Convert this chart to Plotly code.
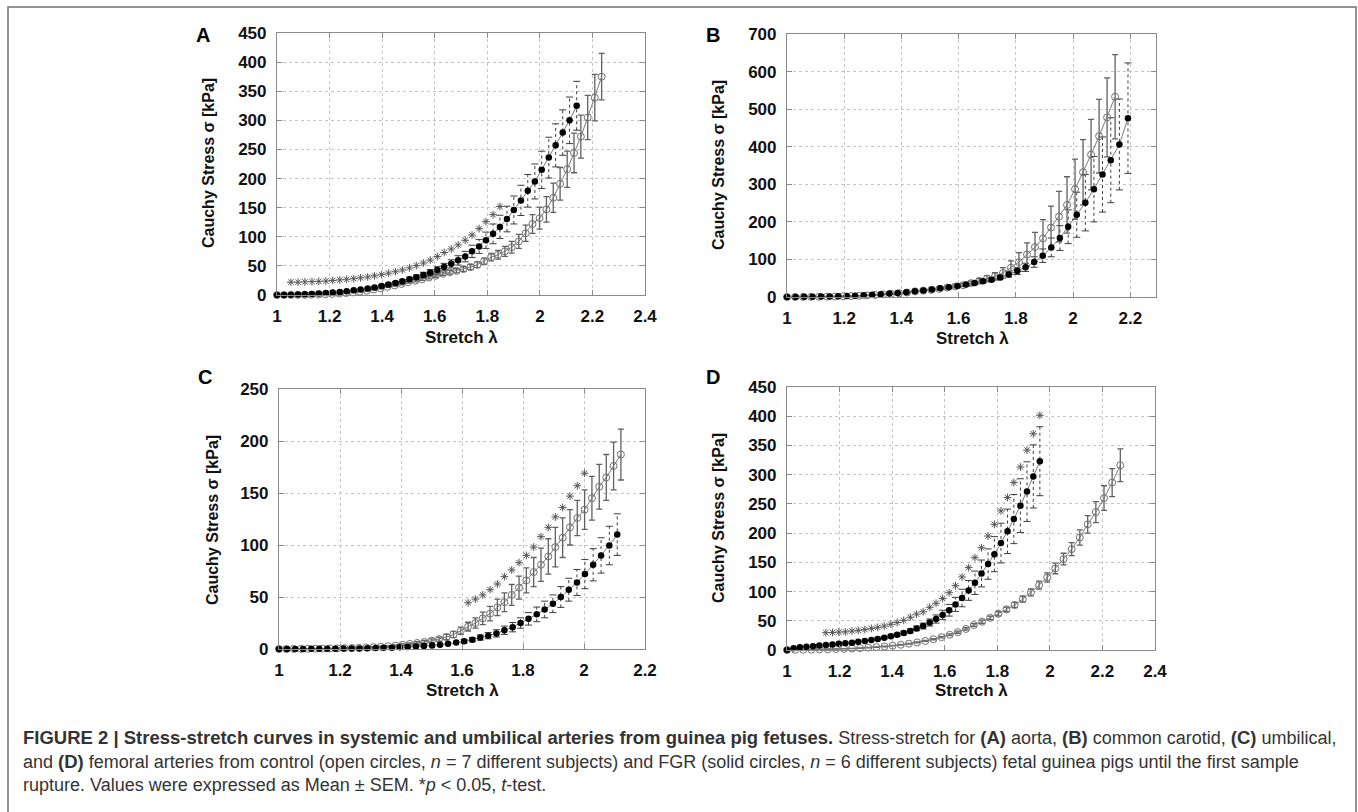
import plotly.graph_objects as go

# ---------------- DATA ----------------
# Panel A (aorta)
a_fgr_x = [1.000, 1.027, 1.053, 1.080, 1.106, 1.133, 1.159, 1.186, 1.212, 1.239, 1.265, 1.292, 1.318, 1.345, 1.371,
           1.398, 1.424, 1.451, 1.477, 1.504, 1.530, 1.557, 1.583, 1.610, 1.636, 1.663, 1.689, 1.716, 1.742, 1.769,
           1.795, 1.822, 1.848, 1.875, 1.901, 1.928, 1.954, 1.981, 2.007, 2.034, 2.060, 2.087, 2.113, 2.140]
a_fgr_y = [0, 0.2, 0.5, 0.8, 1.3, 1.9, 2.6, 3.4, 4.3, 5.3, 6.5, 8, 9.5, 11, 13, 15.5, 18, 20.5, 23.5, 27,
           30.5, 34.5, 38.5, 43, 48, 53.5, 59.5, 66, 75, 83.5, 94, 105, 117, 130.5, 146, 162.5, 179, 195, 215, 236,
           257, 279, 300, 325]
a_fgr_err = [0, 0.05, 0.1, 0.15, 0.2, 0.3, 0.4, 0.5, 0.6, 0.7, 0.8, 1, 1.2, 1.4, 1.7, 2, 2.4, 2.8, 3.2, 3.6,
             4, 4.5, 5, 5.6, 6.3, 7, 8, 9, 10.5, 12, 14, 17, 20, 22, 24, 26, 28, 30, 32, 35, 37, 39, 40, 42]
a_ctl_x = [1.000, 1.026, 1.053, 1.079, 1.105, 1.131, 1.158, 1.184, 1.210, 1.237, 1.263, 1.289, 1.315, 1.342, 1.368,
           1.394, 1.420, 1.447, 1.473, 1.499, 1.526, 1.552, 1.578, 1.604, 1.631, 1.657, 1.683, 1.709, 1.736, 1.762,
           1.788, 1.815, 1.841, 1.867, 1.893, 1.920, 1.946, 1.972, 1.999, 2.025, 2.051, 2.077, 2.104, 2.130, 2.156,
           2.182, 2.209, 2.235]
a_ctl_y = [0, 0.05, 0.1, 0.2, 0.3, 0.5, 0.8, 1.2, 1.8, 2.5, 3.4, 4.5, 6, 7.5, 9.5, 11.5, 14, 16.5, 19, 22,
           24.5, 27, 30, 33, 36.5, 39, 41.5, 44.5, 48, 52, 58, 65, 69, 75, 82, 92, 106, 122, 132, 147,
           167, 191, 216, 244, 272, 305, 339, 375]
a_ctl_err = [0, 0, 0.05, 0.05, 0.1, 0.1, 0.15, 0.2, 0.25, 0.3, 0.4, 0.5, 0.6, 0.7, 0.8, 0.9, 1, 1.2, 1.4, 1.6,
             1.8, 2, 2.2, 2.5, 2.8, 3.2, 3.6, 4, 4.5, 5, 5.5, 6.5, 7.5, 8.5, 10, 12, 14, 16, 19, 22,
             25, 28, 31, 34, 37, 38, 40, 40]
a_sig_x = [1.053, 1.080, 1.106, 1.133, 1.159, 1.186, 1.212, 1.239, 1.265, 1.292, 1.318, 1.345, 1.371, 1.398, 1.424,
           1.451, 1.477, 1.504, 1.530, 1.557, 1.583, 1.610, 1.636, 1.663, 1.689, 1.716, 1.742, 1.769, 1.795, 1.822,
           1.848]
a_sig_y = [22, 22, 22.5, 23, 23.5, 24, 25, 26, 27, 28, 29.5, 31, 33, 35, 37.5, 40, 43, 46.5, 50.5, 55,
           60, 66, 73, 79, 86, 94, 103, 114, 126, 138, 152]

# Panel B (common carotid)
b_fgr_x = [1.000, 1.030, 1.060, 1.089, 1.119, 1.149, 1.179, 1.209, 1.238, 1.268, 1.298, 1.328, 1.358, 1.387, 1.417,
           1.447, 1.477, 1.507, 1.536, 1.566, 1.596, 1.626, 1.656, 1.685, 1.715, 1.745, 1.775, 1.805, 1.834, 1.864,
           1.894, 1.924, 1.954, 1.983, 2.013, 2.043, 2.073, 2.103, 2.132, 2.162, 2.192]
b_fgr_y = [0, 0.2, 0.4, 0.7, 1, 1.5, 2, 2.5, 3.5, 4.5, 6, 7, 9, 10.5, 12.5, 15, 17.5, 20, 23, 26,
           29, 33, 37, 42, 46, 52, 60, 69, 79, 93, 110, 132, 157, 187, 219, 251, 287, 326, 364, 406, 476]
b_fgr_err = [0, 0, 0.05, 0.1, 0.1, 0.15, 0.2, 0.3, 0.4, 0.5, 0.6, 0.7, 0.9, 1.1, 1.3, 1.5, 1.8, 2.1, 2.4, 2.7,
             3, 3.5, 4, 4.5, 5, 6, 7, 9, 11, 14, 18, 25, 33, 45, 60, 75, 87, 100, 113, 121, 147]
b_ctl_x = [1.000, 1.028, 1.056, 1.084, 1.112, 1.140, 1.168, 1.196, 1.224, 1.252, 1.280, 1.308, 1.336, 1.364, 1.392,
           1.420, 1.448, 1.476, 1.504, 1.532, 1.560, 1.588, 1.616, 1.644, 1.672, 1.699, 1.727, 1.755, 1.783, 1.811,
           1.839, 1.867, 1.895, 1.923, 1.951, 1.979, 2.007, 2.035, 2.063, 2.091, 2.119, 2.147]
b_ctl_y = [0, 0.1, 0.2, 0.4, 0.6, 0.9, 1.3, 1.8, 2.4, 3.2, 4.2, 5.5, 7, 8.5, 10, 12, 15, 17, 19, 21.5,
           25, 28, 31.5, 37, 43, 49, 55, 64, 78, 93, 113, 133, 156, 185, 214, 245, 287, 332, 379, 428, 478, 533]
b_ctl_err = [0, 0, 0.03, 0.05, 0.08, 0.1, 0.15, 0.2, 0.25, 0.3, 0.4, 0.55, 0.7, 0.9, 1.1, 1.3, 1.6, 1.9, 2.2, 2.6,
             3, 3.5, 4, 5, 6, 8, 10, 14, 18, 25, 31, 39, 50, 57, 67, 75, 80, 87, 94, 98, 105, 112]

# Panel C (umbilical)
c_fgr_x = [1.000, 1.026, 1.053, 1.079, 1.106, 1.132, 1.158, 1.185, 1.211, 1.238, 1.264, 1.290, 1.317, 1.343, 1.370,
           1.396, 1.422, 1.449, 1.475, 1.502, 1.528, 1.554, 1.581, 1.607, 1.634, 1.660, 1.686, 1.713, 1.739, 1.766,
           1.792, 1.818, 1.845, 1.871, 1.898, 1.924, 1.950, 1.977, 2.003, 2.030, 2.056, 2.083, 2.109]
c_fgr_y = [0, 0.02, 0.05, 0.1, 0.15, 0.2, 0.25, 0.3, 0.4, 0.5, 0.6, 0.75, 0.9, 1.1, 1.3, 1.6, 1.9, 2.3, 2.8, 3.3,
           4, 5, 6.2, 7.4, 9, 11, 12.8, 15, 18, 21, 25, 29, 33.3, 38, 43.5, 50, 57, 64, 72, 81, 90, 99.5, 110]
c_fgr_err = [0, 0, 0, 0, 0, 0.05, 0.05, 0.1, 0.1, 0.15, 0.2, 0.25, 0.3, 0.35, 0.4, 0.5, 0.6, 0.7, 0.8, 0.9,
             1.1, 1.3, 1.5, 1.8, 2, 2.5, 3, 3.5, 4, 4.5, 5, 6, 7, 8, 8.5, 10, 11, 12.5, 14, 15.5, 17, 18.5, 20]
c_ctl_x = [1.000, 1.024, 1.048, 1.072, 1.095, 1.119, 1.143, 1.167, 1.191, 1.215, 1.239, 1.262, 1.286, 1.310, 1.334,
           1.358, 1.382, 1.405, 1.429, 1.453, 1.477, 1.501, 1.525, 1.549, 1.572, 1.596, 1.620, 1.644, 1.668, 1.692,
           1.716, 1.739, 1.763, 1.787, 1.811, 1.835, 1.859, 1.883, 1.906, 1.930, 1.954, 1.978, 2.002, 2.026, 2.050,
           2.073, 2.097, 2.121]
c_ctl_y = [0, 0, 0.05, 0.1, 0.2, 0.3, 0.4, 0.5, 0.6, 0.8, 1, 1.2, 1.5, 1.8, 2.2, 2.7, 3.3, 4, 4.9, 5.8,
           6.8, 8, 9.5, 11.5, 14, 17.5, 21.5, 25, 29.5, 34, 40, 45, 52, 59, 66, 74, 81, 89, 98, 107,
           117, 126, 134, 145, 156, 165, 176, 187]
c_ctl_err = [0, 0, 0, 0, 0, 0.05, 0.05, 0.1, 0.1, 0.15, 0.2, 0.25, 0.3, 0.4, 0.5, 0.6, 0.7, 0.8, 1, 1.2,
             1.4, 1.7, 2, 2.5, 3, 3.5, 4.2, 5, 6, 7, 8, 9, 10, 11, 12, 14, 16, 17, 19, 19,
             17, 17, 19, 21, 21.5, 22, 23, 24.5]
c_sig_x = [1.620, 1.644, 1.668, 1.692, 1.716, 1.739, 1.763, 1.787, 1.811, 1.835, 1.859, 1.883, 1.906, 1.930, 1.954,
           1.978, 2.002]
c_sig_y = [44.5, 48, 52, 57, 62.5, 69.6, 76, 83, 90, 98, 108, 117, 127, 136, 147, 157, 169]

# Panel D (femoral)
d_fgr_x = [1.000, 1.025, 1.049, 1.074, 1.099, 1.123, 1.148, 1.173, 1.197, 1.222, 1.247, 1.271, 1.296, 1.321, 1.345,
           1.370, 1.395, 1.419, 1.444, 1.469, 1.493, 1.518, 1.543, 1.567, 1.592, 1.617, 1.641, 1.666, 1.691, 1.715,
           1.740, 1.765, 1.789, 1.814, 1.839, 1.863, 1.888, 1.913, 1.937, 1.962]
d_fgr_y = [0, 3, 4.5, 5.5, 6.5, 7.5, 8.5, 9.5, 10.5, 11.5, 12.5, 14, 15.5, 17, 19, 21, 23.5, 26, 29, 32.5,
           37, 41, 47, 53, 60, 68, 78, 89, 102, 115, 131, 147, 164, 183, 203, 224, 247, 271, 297, 323]
d_fgr_err = [0, 0.1, 0.15, 0.2, 0.3, 0.4, 0.5, 0.6, 0.7, 0.8, 0.9, 1, 1.2, 1.4, 1.6, 1.9, 2.2, 2.6, 3, 3.5,
             4, 5, 6, 7, 8, 10, 12, 15, 17, 20, 23, 26, 30, 34, 38, 42, 46, 51, 54, 59]
d_ctl_x = [1.000, 1.031, 1.062, 1.093, 1.124, 1.155, 1.186, 1.217, 1.247, 1.278, 1.309, 1.340, 1.371, 1.402, 1.433,
           1.464, 1.495, 1.526, 1.557, 1.588, 1.619, 1.650, 1.681, 1.711, 1.742, 1.773, 1.804, 1.835, 1.866, 1.897,
           1.928, 1.959, 1.990, 2.021, 2.052, 2.083, 2.114, 2.144, 2.175, 2.206, 2.237, 2.268]
d_ctl_y = [0, 0.2, 0.4, 0.6, 0.9, 1.2, 1.6, 2, 2.6, 3.2, 4, 5, 6, 7.4, 9, 10.8, 13, 15.5, 18.5, 22,
           26, 30.5, 36, 42.7, 48.4, 55, 62, 69.5, 77, 87, 98.5, 111, 124, 139.5, 155.5, 172.6, 192.5, 215, 236, 260,
           286.5, 316]
d_ctl_err = [0, 0, 0, 0, 0.05, 0.05, 0.1, 0.1, 0.15, 0.2, 0.25, 0.3, 0.4, 0.5, 0.6, 0.7, 0.8, 0.9, 1.1, 1.3,
             1.5, 1.8, 2.1, 2.4, 2.7, 3, 3.5, 4, 4.5, 5, 6, 7, 8, 9, 10, 11, 13, 15, 18, 21, 24, 28]
d_sig_x = [1.148, 1.173, 1.197, 1.222, 1.247, 1.271, 1.296, 1.321, 1.345, 1.370, 1.395, 1.419, 1.444, 1.469, 1.493,
           1.518, 1.543, 1.567, 1.592, 1.617, 1.641, 1.666, 1.691, 1.715, 1.740, 1.765, 1.789, 1.814, 1.839, 1.863,
           1.888, 1.913, 1.937, 1.962]
d_sig_y = [29.6, 30, 30.7, 31, 32.5, 33.6, 35, 37, 38.7, 41, 44, 47, 50.7, 56, 61.5, 65.5, 73, 80, 88, 98,
           110, 125, 141, 158, 175, 195, 215, 238, 261, 286.5, 313, 342, 370, 401.6]

# Tick labels
x_ticks_24 = [1, 1.2, 1.4, 1.6, 1.8, 2, 2.2, 2.4]
x_ticklabels_24 = ["1", "1.2", "1.4", "1.6", "1.8", "2", "2.2", "2.4"]
x_ticks_22 = [1, 1.2, 1.4, 1.6, 1.8, 2, 2.2]
x_ticklabels_22 = ["1", "1.2", "1.4", "1.6", "1.8", "2", "2.2"]
y_ticks_450 = [0, 50, 100, 150, 200, 250, 300, 350, 400, 450]
y_ticks_700 = [0, 100, 200, 300, 400, 500, 600, 700]
y_ticks_250 = [0, 50, 100, 150, 200, 250]

panel_letters = ["A", "B", "C", "D"]
x_title = "Stretch λ"
y_title = "Cauchy Stress σ [kPa]"
BS = '<span style="font-size:18.5px"><b>'
BE = '</b></span>'
caption_lines = [
    BS + "FIGURE 2 | Stress-stretch curves in systemic and umbilical arteries from guinea pig fetuses." + BE +
    " Stress-stretch for " + BS + "(A)" + BE + " aorta, " + BS + "(B)" + BE + " common carotid, " +
    BS + "(C)" + BE + " umbilical,",
    "and " + BS + "(D)" + BE + " femoral arteries from control (open circles, <i>n</i> = 7 different subjects) and FGR "
    "(solid circles, <i>n</i> = 6 different subjects) fetal guinea pigs until the first sample",
    "rupture. Values were expressed as Mean ± SEM. *<i>p</i> &lt; 0.05, <i>t</i>-test.",
]

# ---------------- FIGURE ----------------
W, H = 1358, 812
fig = go.Figure()

LINE_GREY = "#7a7a7a"
CTL_GREY = "#707070"
DOT_ERR = "#3c3c3c"
SIG_GREY = "#555555"


def add_panel(n, fgr_x, fgr_y, fgr_err, ctl_x, ctl_y, ctl_err, sig_x=None, sig_y=None):
    xa = "x" if n == 1 else f"x{n}"
    ya = "y" if n == 1 else f"y{n}"
    # dotted FGR error bars
    ex, ey = [], []
    for xv, yv, e in zip(fgr_x, fgr_y, fgr_err):
        if e <= 0:
            continue
        ex += [xv, xv, None]
        ey += [yv - e, yv + e, None]
    fig.add_trace(go.Scatter(x=ex, y=ey, mode="lines", xaxis=xa, yaxis=ya,
                             line=dict(color=DOT_ERR, width=1, dash="dot"),
                             hoverinfo="skip", showlegend=False))
    cx, cy = [], []
    for xv, yv, e in zip(fgr_x, fgr_y, fgr_err):
        if e <= 1.5:
            continue
        cx += [xv, xv]
        cy += [yv - e, yv + e]
    fig.add_trace(go.Scatter(x=cx, y=cy, mode="markers", xaxis=xa, yaxis=ya,
                             marker=dict(symbol="line-ew-open", size=5, color=DOT_ERR,
                                         line=dict(color=DOT_ERR, width=1)),
                             hoverinfo="skip", showlegend=False))
    # control: open circles, solid error bars
    fig.add_trace(go.Scatter(x=ctl_x, y=ctl_y, mode="lines+markers", xaxis=xa, yaxis=ya,
                             line=dict(color=LINE_GREY, width=1),
                             marker=dict(symbol="circle-open", size=7, color=CTL_GREY,
                                         line=dict(color=CTL_GREY, width=1)),
                             error_y=dict(type="data", array=ctl_err, visible=True,
                                          color="#606060", thickness=1.3, width=3),
                             cliponaxis=False, showlegend=False))
    # FGR: solid circles
    fig.add_trace(go.Scatter(x=fgr_x, y=fgr_y, mode="lines+markers", xaxis=xa, yaxis=ya,
                             line=dict(color=LINE_GREY, width=1),
                             marker=dict(symbol="circle", size=6.5, color="#000000"),
                             cliponaxis=False, showlegend=False))
    if sig_x is not None:
        fig.add_trace(go.Scatter(x=sig_x, y=sig_y, mode="markers", xaxis=xa, yaxis=ya,
                                 marker=dict(symbol="asterisk-open", size=6.5, color=SIG_GREY,
                                             line=dict(color=SIG_GREY, width=1)),
                                 showlegend=False))


add_panel(1, a_fgr_x, a_fgr_y, a_fgr_err, a_ctl_x, a_ctl_y, a_ctl_err, a_sig_x, a_sig_y)
add_panel(2, b_fgr_x, b_fgr_y, b_fgr_err, b_ctl_x, b_ctl_y, b_ctl_err)
add_panel(3, c_fgr_x, c_fgr_y, c_fgr_err, c_ctl_x, c_ctl_y, c_ctl_err, c_sig_x, c_sig_y)
add_panel(4, d_fgr_x, d_fgr_y, d_fgr_err, d_ctl_x, d_ctl_y, d_ctl_err, d_sig_x, d_sig_y)

TICKFONT = dict(family="Liberation Sans, Arial, sans-serif", size=17, color="#111111", weight="bold")


def dx(a, b):
    return [a / W, b / W]


def dy(top, bottom):
    return [1 - bottom / H, 1 - top / H]


def xaxis(domain, rng, tv, tt, anchor):
    return dict(domain=domain, range=rng, tickvals=tv, ticktext=tt, anchor=anchor, automargin=False,
                showgrid=True, gridcolor="#c4c4c4", griddash="dot", gridwidth=1,
                showline=True, linecolor="#8a8a8a", linewidth=1.2, mirror="ticks",
                ticks="inside", ticklen=5, tickcolor="#8a8a8a", zeroline=False,
                tickfont=TICKFONT, ticklabelstandoff=5)


def yaxis(domain, rng, tv, anchor):
    return dict(domain=domain, range=rng, tickvals=tv, anchor=anchor, automargin=False,
                showgrid=True, gridcolor="#c4c4c4", griddash="dot", gridwidth=1,
                showline=True, linecolor="#8a8a8a", linewidth=1.2, mirror="ticks",
                ticks="inside", ticklen=5, tickcolor="#8a8a8a", zeroline=False,
                tickfont=TICKFONT, ticklabelstandoff=6)


fig.update_layout(
    template="none",
    width=W, height=H, margin=dict(l=0, r=0, t=0, b=0, pad=0, autoexpand=False),
    paper_bgcolor="white", plot_bgcolor="white", showlegend=False,
    xaxis=xaxis(dx(277, 645), [1, 2.4], x_ticks_24, x_ticklabels_24, "y"),
    yaxis=yaxis(dy(33, 295), [0, 450], y_ticks_450, "x"),
    xaxis2=xaxis(dx(787, 1156), [1, 2.29], x_ticks_22, x_ticklabels_22, "y2"),
    yaxis2=yaxis(dy(34, 297), [0, 700], y_ticks_700, "x2"),
    xaxis3=xaxis(dx(279, 645), [1, 2.2], x_ticks_22, x_ticklabels_22, "y3"),
    yaxis3=yaxis(dy(389, 649), [0, 250], y_ticks_250, "x3"),
    xaxis4=xaxis(dx(787, 1155), [1, 2.4], x_ticks_24, x_ticklabels_24, "y4"),
    yaxis4=yaxis(dy(387, 650), [0, 450], y_ticks_450, "x4"),
)

LABFONT = dict(family="Liberation Sans, Arial, sans-serif", size=16, color="#111111", weight="bold")
XLABFONT = dict(family="Liberation Sans, Arial, sans-serif", size=17, color="#111111", weight="bold")
ann = []
# panel letters
for letter, (px, py) in zip(panel_letters, [(203, 35), (713, 35), (205, 377), (713, 377)]):
    ann.append(dict(text=letter, x=px / W, y=1 - py / H, xref="paper", yref="paper",
                    showarrow=False, xanchor="center", yanchor="middle",
                    font=dict(family="Liberation Sans, Arial, sans-serif", size=20, color="#000", weight="bold")))
# x titles
for (px, py) in [(461, 337), (972, 338), (462, 690), (971, 690)]:
    ann.append(dict(text=x_title, x=px / W, y=1 - py / H, xref="paper", yref="paper",
                    showarrow=False, xanchor="center", yanchor="middle", font=XLABFONT))
# y titles
for (px, py) in [(208, 163), (718, 165), (212, 520), (718, 518)]:
    ann.append(dict(text=y_title, x=px / W, y=1 - py / H, xref="paper", yref="paper",
                    showarrow=False, xanchor="center", yanchor="middle", textangle=-90, font=LABFONT))
# caption
for line, py in zip(caption_lines, [737, 761, 785]):
    ann.append(dict(text=line, x=21 / W, y=1 - py / H, xref="paper", yref="paper",
                    showarrow=False, xanchor="left", yanchor="middle", align="left",
                    font=dict(family="Liberation Sans, Arial, sans-serif", size=18, color="#333333")))
fig.update_layout(annotations=ann)

# outer frame
fig.add_shape(type="rect", xref="paper", yref="paper", x0=8 / W, x1=1356 / W, y0=-0.02, y1=1 - 7 / H,
              line=dict(color="#707070", width=1.5), fillcolor="rgba(0,0,0,0)")

fig.write_html("out.html", config={"displayModeBar": False},
               post_script="document.body.style.margin='0';document.body.style.overflow='hidden';")
